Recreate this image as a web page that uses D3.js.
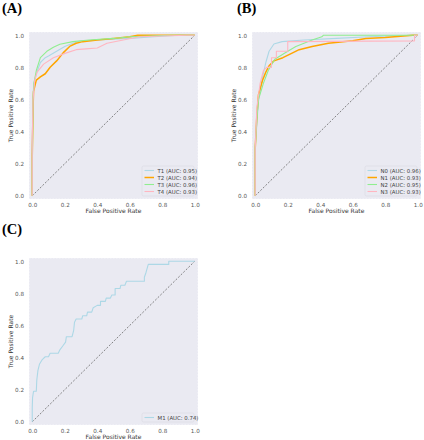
<!DOCTYPE html>
<html><head><meta charset="utf-8">
<script src="https://cdn.jsdelivr.net/npm/d3@7"></script>
<style>body{margin:0;background:#fff}svg{display:block}</style>
</head><body>
<svg id="c" width="424" height="440"></svg>
<script>
// ---- data ----
const panelLabels = ["(A)", "(B)", "(C)"];
const xTicks = [0, 0.2, 0.4, 0.6, 0.8, 1.0];
const yTicks = [0, 0.2, 0.4, 0.6, 0.8, 1.0];

const namesA = ["T1 (AUC: 0.95)", "T2 (AUC: 0.94)", "T3 (AUC: 0.96)", "T4 (AUC: 0.93)"];
const namesB = ["N0 (AUC: 0.96)", "N1 (AUC: 0.93)", "N2 (AUC: 0.95)", "N3 (AUC: 0.93)"];
const namesC = ["M1 (AUC: 0.74)"];
const colors = ["#add8e6", "#ffa500", "#90ee90", "#ffb6c1"];

const T1 = [[0,0],[0,0.3],[0.005,0.62],[0.01,0.7],[0.025,0.76],[0.05,0.83],[0.08,0.86],[0.1,0.87],[0.15,0.9],[0.2,0.93],[0.25,0.95],[0.3,0.965],[0.4,0.97],[0.5,0.975],[0.6,0.98],[0.75,0.99],[0.9,1.0],[1,1]];
const T2 = [[0,0],[0,0.25],[0.005,0.55],[0.008,0.65],[0.025,0.72],[0.05,0.74],[0.08,0.76],[0.11,0.8],[0.15,0.84],[0.19,0.89],[0.23,0.93],[0.27,0.95],[0.31,0.96],[0.4,0.97],[0.5,0.98],[0.6,0.99],[0.65,1.0],[1,1]];
const T3 = [[0,0],[0,0.2],[0.005,0.6],[0.01,0.7],[0.025,0.78],[0.05,0.86],[0.09,0.9],[0.13,0.925],[0.17,0.944],[0.25,0.96],[0.35,0.97],[0.5,0.98],[0.6,0.99],[0.85,1.0],[1,1]];
const T4 = [[0,0],[0,0.35],[0.005,0.6],[0.015,0.72],[0.03,0.77],[0.07,0.82],[0.13,0.86],[0.21,0.89],[0.27,0.91],[0.33,0.915],[0.4,0.92],[0.46,0.95],[0.56,0.97],[0.66,0.99],[0.95,1.0],[1,1]];

const N0 = [[0,0],[0,0.3],[0.01,0.45],[0.02,0.59],[0.045,0.74],[0.065,0.83],[0.085,0.9],[0.115,0.945],[0.165,0.96],[0.3,0.97],[0.5,0.98],[0.7,0.99],[0.95,1.0],[1,1]];
const N1 = [[0,0],[0,0.3],[0.01,0.5],[0.02,0.63],[0.045,0.72],[0.065,0.77],[0.085,0.81],[0.115,0.84],[0.17,0.86],[0.23,0.89],[0.27,0.91],[0.35,0.93],[0.45,0.95],[0.6,0.965],[0.68,0.98],[0.8,0.985],[0.97,1.0],[1,1]];
const N2 = [[0,0],[0,0.3],[0.01,0.48],[0.02,0.6],[0.05,0.7],[0.08,0.78],[0.12,0.85],[0.2,0.9],[0.25,0.93],[0.3,0.95],[0.35,0.97],[0.41,0.99],[0.42,1.0],[1,1]];
const N3 = [[0,0],[0,0.3],[0.01,0.55],[0.03,0.7],[0.05,0.78],[0.07,0.8],[0.1,0.8],[0.1,0.86],[0.13,0.86],[0.13,0.9],[0.2,0.9],[0.2,0.96],[0.98,0.965],[0.98,1.0],[1,1]];

const M1 = [[0,0],[0,0.09],[0.002,0.15],[0.008,0.19],[0.025,0.19],[0.028,0.26],[0.035,0.32],[0.045,0.36],[0.06,0.385],[0.08,0.405],[0.1,0.405],[0.11,0.427],[0.16,0.427],[0.17,0.448],[0.19,0.475],[0.205,0.496],[0.21,0.53],[0.245,0.53],[0.255,0.57],[0.26,0.62],[0.27,0.64],[0.305,0.64],[0.31,0.66],[0.335,0.66],[0.34,0.683],[0.366,0.683],[0.375,0.71],[0.40,0.725],[0.42,0.725],[0.42,0.75],[0.45,0.75],[0.455,0.77],[0.48,0.77],[0.49,0.79],[0.51,0.79],[0.51,0.83],[0.54,0.83],[0.545,0.85],[0.57,0.85],[0.58,0.875],[0.69,0.875],[0.69,0.90],[0.70,0.93],[0.714,0.98],[0.84,0.98],[0.84,1.0],[1,1]];

const panels = [
  {label: panelLabels[0], lx: 2, ly: 13, box: [29, 32, 198, 199], series: [T1, T2, T3, T4], names: namesA, ylabX: 12.5},
  {label: panelLabels[1], lx: 237, ly: 13, box: [252, 32, 421, 199], series: [N0, N1, N2, N3], names: namesB, ylabX: 235.5},
  {label: panelLabels[2], lx: 2, ly: 234, box: [29, 258, 198, 425], series: [M1], names: namesC, ylabX: 12.5}
];

const svg = d3.select("#c");
const fmt = d3.format(".1f");

panels.forEach(p => {
  const [x0, y0, x1, y1] = p.box;
  const g = svg.append("g");
  const x = d3.scaleLinear().domain([-0.02, 1.02]).range([x0, x1]);
  const y = d3.scaleLinear().domain([-0.02, 1.02]).range([y1, y0]);

  g.append("text").attr("x", p.lx).attr("y", p.ly)
    .attr("font-family", "Liberation Serif, Times New Roman, serif")
    .attr("font-weight", "bold").attr("font-size", 14.5).attr("fill", "#000").text(p.label);

  g.append("rect").attr("x", x0).attr("y", y0).attr("width", x1 - x0).attr("height", y1 - y0)
    .attr("fill", "#eaeaf2").attr("stroke", "#ffffff").attr("stroke-width", 0.6).attr("stroke-dasharray", "1.5,1.5");

  const xAxis = d3.axisBottom(x).tickValues(xTicks).tickFormat(fmt).tickSize(0).tickPadding(4);
  const yAxis = d3.axisLeft(y).tickValues(yTicks).tickFormat(fmt).tickSize(0).tickPadding(5);
  const gx = g.append("g").attr("transform", `translate(0,${y1})`).call(xAxis);
  const gy = g.append("g").attr("transform", `translate(${x0},0)`).call(yAxis);
  [gx, gy].forEach(a => {
    a.select(".domain").remove();
    a.selectAll("text").attr("font-family", "DejaVu Sans, sans-serif").attr("font-size", 5.6).attr("fill", "#555");
  });

  g.append("text").attr("x", (x(0) + x(1)) / 2).attr("y", y1 + 13.5)
    .attr("text-anchor", "middle").attr("font-family", "DejaVu Sans, sans-serif").attr("font-size", 6).attr("fill", "#333")
    .text("False Positive Rate");
  g.append("text").attr("transform", `translate(${p.ylabX},${(y0 + y1) / 2}) rotate(-90)`)
    .attr("text-anchor", "middle").attr("font-family", "DejaVu Sans, sans-serif").attr("font-size", 6).attr("fill", "#333")
    .text("True Positive Rate");

  // diagonal
  g.append("line").attr("x1", x(0)).attr("y1", y(0)).attr("x2", x(1)).attr("y2", y(1))
    .attr("stroke", "#666").attr("stroke-width", 0.8).attr("stroke-dasharray", "2,1.6");

  const line = d3.line().x(d => x(d[0])).y(d => y(d[1]));
  p.series.forEach((s, i) => {
    g.append("path").datum(s).attr("d", line).attr("fill", "none")
      .attr("stroke", colors[i]).attr("stroke-width", i === 1 ? 1.5 : 1.1).attr("stroke-linejoin", "round");
  });

  // legend
  const n = p.names.length;
  const rowH = 7, lw = 52;
  const lh = n * rowH + 2;
  const lxr = x1 - 4 - lw, lyt = y1 - 3 - lh;
  const lg = g.append("g");
  lg.append("rect").attr("x", lxr).attr("y", lyt).attr("width", lw).attr("height", lh).attr("rx", 1.5)
    .attr("fill", "#eaeaf2").attr("fill-opacity", 0.85).attr("stroke", "#d6d6de").attr("stroke-width", 0.5);
  p.names.forEach((nm, i) => {
    const cy = lyt + 4.5 + i * rowH;
    lg.append("line").attr("x1", lxr + 2.5).attr("x2", lxr + 12).attr("y1", cy).attr("y2", cy)
      .attr("stroke", colors[i]).attr("stroke-width", i === 1 ? 1.5 : 1.1);
    lg.append("text").attr("x", lxr + 15.5).attr("y", cy + 2)
      .attr("font-family", "DejaVu Sans, sans-serif").attr("font-size", 5.4).attr("fill", "#444").text(nm);
  });
});
</script>
</body></html>
